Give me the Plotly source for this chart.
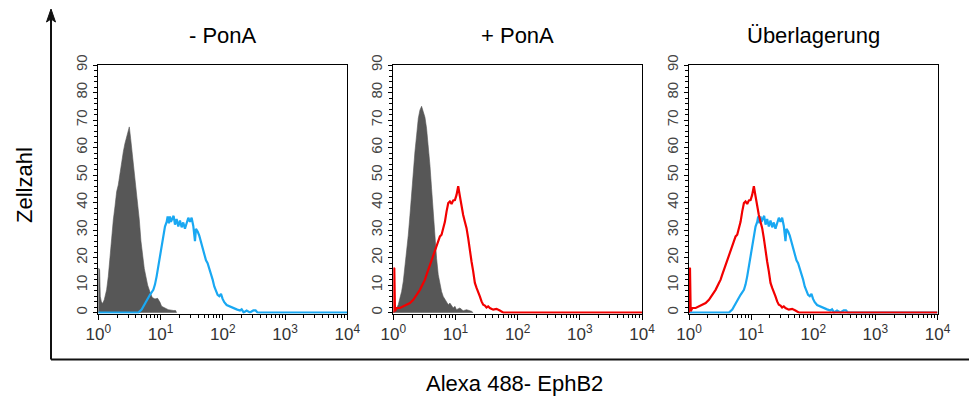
import plotly.graph_objects as go

# ---------------- data ----------------
# x positions are given in decades (log10 of fluorescence), y = cell count
gray1_dec = [0.000, 0.005, 0.021, 0.032, 0.048, 0.070, 0.096, 0.134, 0.161, 0.187,
             0.214, 0.241, 0.268, 0.295, 0.321, 0.348, 0.375, 0.402, 0.428, 0.455,
             0.482, 0.498, 0.519, 0.546, 0.578, 0.600, 0.627, 0.659, 0.685, 0.712,
             0.739, 0.766, 0.793, 0.830, 0.867, 0.910, 0.953, 0.991, 1.017, 1.071,
             1.124, 1.205, 1.242, 1.258]
gray1_cnt = [0.0, 16.2, 15.6, 5.9, 4.1, 3.3, 4.7, 8.3, 13.2, 20.4,
             27.7, 33.7, 38.6, 44.0, 46.4, 50.7, 54.3, 58.5, 61.5, 64.0,
             65.8, 67.5, 63.4, 57.9, 51.9, 45.8, 39.8, 33.7, 26.0, 20.0,
             16.0, 13.0, 10.0, 7.5, 5.5, 5.0, 5.2, 3.8, 2.3, 1.7,
             1.1, 0.8, 0.8, 0.0]

blue_dec = [0.000, 0.643, 0.696, 0.739, 0.776, 0.830, 0.884, 0.910, 0.937, 0.964,
            0.991, 1.017, 1.044, 1.071, 1.098, 1.114, 1.135, 1.151, 1.167, 1.189,
            1.210, 1.232, 1.258, 1.285, 1.312, 1.339, 1.365, 1.392, 1.419, 1.446,
            1.473, 1.499, 1.526, 1.553, 1.569, 1.596, 1.622, 1.649, 1.676, 1.703,
            1.730, 1.756, 1.783, 1.810, 1.837, 1.863, 1.890, 1.917, 1.944, 1.971,
            1.997, 2.024, 2.062, 2.115, 2.169, 2.222, 2.276, 2.303, 2.335, 2.383,
            2.436, 2.490, 2.527, 2.560, 4.000]
blue_cnt = [0.0, 0.0, 1.1, 2.9, 4.7, 6.5, 8.3, 10.2, 13.2, 16.8,
            21.6, 25.2, 27.7, 31.3, 33.0, 35.0, 32.5, 35.0, 33.0, 34.5,
            35.2, 32.0, 34.0, 31.3, 33.5, 31.0, 32.8, 30.5, 33.0, 34.5,
            33.0, 34.5, 31.5, 26.0, 30.5, 29.5, 28.0, 25.5, 23.0, 21.0,
            19.0, 18.0, 16.0, 14.5, 12.0, 9.5, 8.0, 6.5, 6.0, 6.8,
            5.0, 3.8, 2.8, 2.2, 1.7, 1.2, 0.8, 1.2, 0.1, 0.8,
            0.1, 0.8, 0.8, 0.0, 0.0]

gray2_dec = [0.000, 0.011, 0.054, 0.080, 0.107, 0.134, 0.161, 0.187, 0.214, 0.241,
             0.268, 0.295, 0.321, 0.348, 0.375, 0.402, 0.428, 0.455, 0.482, 0.509,
             0.535, 0.562, 0.589, 0.616, 0.643, 0.669, 0.696, 0.723, 0.750, 0.776,
             0.803, 0.830, 0.857, 0.884, 0.910, 0.937, 0.964, 0.991, 1.017, 1.071,
             1.124, 1.178, 1.258, 1.285]
gray2_cnt = [0.0, 0.5, 1.7, 2.9, 5.3, 7.7, 11.4, 16.2, 22.1, 28.1,
             35.4, 43.9, 52.4, 58.5, 64.5, 70.6, 73.6, 75.0, 73.0, 71.0,
             67.0, 61.0, 53.7, 45.0, 35.4, 27.0, 19.8, 13.8, 10.0, 7.7,
             5.9, 4.7, 3.5, 2.9, 3.5, 2.3, 1.7, 2.3, 1.1, 1.7,
             0.7, 1.1, 0.5, 0.0]

red_dec = [0.000, 0.005, 0.016, 0.027, 0.054, 0.107, 0.161, 0.214, 0.268, 0.321,
           0.375, 0.428, 0.482, 0.509, 0.535, 0.562, 0.589, 0.616, 0.643, 0.669,
           0.696, 0.723, 0.750, 0.776, 0.803, 0.830, 0.857, 0.884, 0.910, 0.937,
           0.964, 0.991, 1.017, 1.044, 1.071, 1.098, 1.124, 1.151, 1.178, 1.205,
           1.232, 1.258, 1.285, 1.312, 1.339, 1.365, 1.392, 1.419, 1.446, 1.473,
           1.499, 1.526, 1.553, 1.606, 1.660, 1.713, 1.772, 4.000]
red_cnt = [0.0, 16.2, 16.0, 0.5, 1.7, 1.7, 2.3, 2.9, 3.5, 4.7,
           6.5, 8.3, 10.8, 12.0, 13.8, 15.6, 17.4, 19.2, 21.0, 22.9,
           24.0, 25.9, 27.7, 28.3, 30.7, 33.0, 36.8, 39.8, 40.4, 39.5,
           40.8, 40.9, 42.8, 46.0, 42.3, 38.0, 35.5, 33.0, 30.7, 27.0,
           22.0, 18.6, 15.0, 10.8, 9.0, 7.7, 5.9, 4.1, 2.9, 2.6,
           1.9, 2.3, 1.7, 1.1, 1.4, 0.8, 0.0, 0.0]

panel_titles = ["- PonA", "+ PonA", "Überlagerung"]
x_tick_vals = [1, 10, 100, 1000, 10000]
x_tick_text = ["10<sup>0</sup>", "10<sup>1</sup>", "10<sup>2</sup>", "10<sup>3</sup>", "10<sup>4</sup>"]
x_minor_vals = [m * d for d in (1, 10, 100, 1000) for m in range(2, 10)]
y_tick_vals = [0, 10, 20, 30, 40, 50, 60, 70, 80, 90]
y_title = "Zellzahl"
x_title = "Alexa 488- EphB2"

GRAY = "#575757"
BLUE = "#19a8f2"
RED = "#f20000"

def lin(decs):
    return [10 ** d for d in decs]

# ---------------- layout geometry (pixels) ----------------
W, H = 969, 401
panels_px = [(98.3, 347.3), (393.3, 642.0), (689.0, 937.5)]
top_px, bot_px = 65.0, 313.5

fig = go.Figure()

def add(trace, i):
    trace.update(xaxis="x" if i == 0 else f"x{i+1}", yaxis="y" if i == 0 else f"y{i+1}")
    fig.add_trace(trace)

# panel 1
add(go.Scatter(x=lin(gray1_dec), y=gray1_cnt, mode="lines", fill="tozeroy",
               fillcolor=GRAY, line=dict(color=GRAY, width=0.6), hoverinfo="skip"), 0)
add(go.Scatter(x=lin(blue_dec), y=blue_cnt, mode="lines",
               line=dict(color=BLUE, width=2.2)), 0)
# panel 2
add(go.Scatter(x=lin(gray2_dec), y=gray2_cnt, mode="lines", fill="tozeroy",
               fillcolor=GRAY, line=dict(color=GRAY, width=0.6), hoverinfo="skip"), 1)
add(go.Scatter(x=lin(red_dec), y=red_cnt, mode="lines",
               line=dict(color=RED, width=2.2)), 1)
# panel 3 (overlay)
add(go.Scatter(x=lin(blue_dec), y=blue_cnt, mode="lines",
               line=dict(color=BLUE, width=2.2)), 2)
add(go.Scatter(x=lin(red_dec), y=red_cnt, mode="lines",
               line=dict(color=RED, width=2.2)), 2)

FONT = "Liberation Sans, Arial, sans-serif"
layout = dict(width=W, height=H, autosize=False,
              margin=dict(l=0, r=0, t=0, b=0, pad=0, autoexpand=False),
              paper_bgcolor="white", plot_bgcolor="white", showlegend=False,
              font=dict(family=FONT, color="#000"))

for i, (l, r) in enumerate(panels_px):
    xk = "xaxis" if i == 0 else f"xaxis{i+1}"
    yk = "yaxis" if i == 0 else f"yaxis{i+1}"
    xa = "x" if i == 0 else f"x{i+1}"
    ya = "y" if i == 0 else f"y{i+1}"
    layout[xk] = dict(type="log", range=[0, 4], domain=[l / W, r / W], anchor=ya,
                      automargin=False,
                      showgrid=False, zeroline=False, showline=True, mirror=True,
                      linecolor="#000", linewidth=1,
                      tickmode="array", tickvals=x_tick_vals, ticktext=x_tick_text,
                      ticks="outside", ticklen=5, tickcolor="#000", tickwidth=1,
                      tickfont=dict(family=FONT, size=17, color="#333"),
                      minor=dict(tickmode="array", tickvals=x_minor_vals, ticks="outside",
                                 ticklen=3, tickcolor="#000", tickwidth=1, showgrid=False),
                      fixedrange=True)
    layout[yk] = dict(range=[-0.3, 90], domain=[1 - bot_px / H, 1 - top_px / H], anchor=xa,
                      automargin=False,
                      showgrid=False, zeroline=False, showline=True, mirror=True,
                      linecolor="#000", linewidth=1,
                      tickmode="array", tickvals=y_tick_vals, ticks="outside",
                      ticklen=4, tickcolor="#000", tickwidth=1, tickangle=-90,
                      tickfont=dict(family=FONT, size=15, color="#444"),
                      minor=dict(dtick=2, ticks="outside", ticklen=3, tickcolor="#000",
                                 tickwidth=1, showgrid=False),
                      fixedrange=True)

annotations = []
for (l, r), t in zip(panels_px, panel_titles):
    annotations.append(dict(text=t, x=(l + r) / 2 / W, y=1 - 36 / H, xref="paper", yref="paper",
                            showarrow=False, xanchor="center", yanchor="middle",
                            font=dict(family=FONT, size=22, color="#000")))
annotations.append(dict(text=y_title, x=24 / W, y=1 - 185 / H, xref="paper", yref="paper",
                        showarrow=False, textangle=-90, xanchor="center", yanchor="middle",
                        font=dict(family=FONT, size=22, color="#000")))
annotations.append(dict(text=x_title, x=514 / W, y=1 - 383 / H, xref="paper", yref="paper",
                        showarrow=False, xanchor="center", yanchor="middle",
                        font=dict(family=FONT, size=22, color="#000")))
layout["annotations"] = annotations

ax_x, ax_y = 51.0, 359.5
shapes = [
    dict(type="line", xref="paper", yref="paper", x0=ax_x / W, x1=1.0,
         y0=1 - ax_y / H, y1=1 - ax_y / H, line=dict(color="#111", width=2)),
    dict(type="line", xref="paper", yref="paper", x0=ax_x / W, x1=ax_x / W,
         y0=1 - ax_y / H, y1=1 - 18 / H, line=dict(color="#111", width=2)),
    dict(type="path", xref="paper", yref="paper",
         path=f"M {(ax_x-4.5)/W},{1-22/H} L {ax_x/W},{1-9/H} L {(ax_x+4.5)/W},{1-22/H} L {ax_x/W},{1-19/H} Z",
         fillcolor="#111", line=dict(color="#111", width=1)),
]
layout["shapes"] = shapes

fig.update_layout(**layout)
fig.write_html("out.html", config={"displayModeBar": False, "responsive": False},
               post_script="document.body.style.margin='0';document.body.style.overflow='hidden';")
